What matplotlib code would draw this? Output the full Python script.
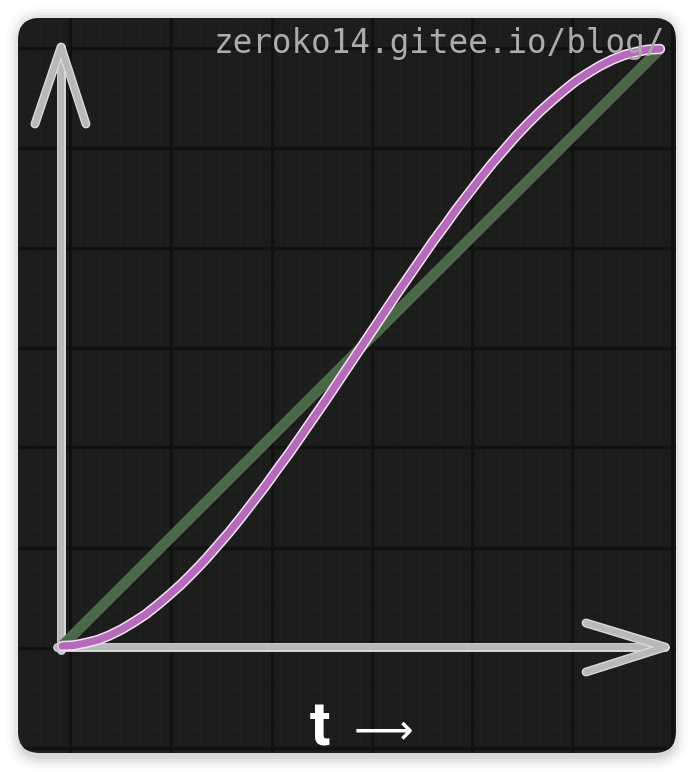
import matplotlib
matplotlib.use("Agg")
import matplotlib.pyplot as plt
import matplotlib.patheffects as pe
from matplotlib.patches import FancyBboxPatch
import numpy as np

# ---- data ----
linear_t = [0.0, 1.0]
linear_v = [0.0, 1.0]
ease_t = [0.00, 0.02, 0.04, 0.06, 0.08, 0.10, 0.12, 0.14, 0.16, 0.18,
          0.20, 0.22, 0.24, 0.26, 0.28, 0.30, 0.32, 0.34, 0.36, 0.38,
          0.40, 0.42, 0.44, 0.46, 0.48, 0.50, 0.52, 0.54, 0.56, 0.58,
          0.60, 0.62, 0.64, 0.66, 0.68, 0.70, 0.72, 0.74, 0.76, 0.78,
          0.80, 0.82, 0.84, 0.86, 0.88, 0.90, 0.92, 0.94, 0.96, 0.98, 1.00]
ease_v = [0.000, 0.001, 0.005, 0.010, 0.018, 0.028, 0.040, 0.053, 0.069, 0.086,
          0.104, 0.124, 0.145, 0.168, 0.191, 0.216, 0.242, 0.268, 0.296, 0.323,
          0.352, 0.381, 0.410, 0.440, 0.470, 0.500, 0.530, 0.560, 0.590, 0.619,
          0.648, 0.677, 0.704, 0.732, 0.758, 0.784, 0.809, 0.832, 0.855, 0.876,
          0.896, 0.914, 0.931, 0.947, 0.960, 0.972, 0.982, 0.990, 0.995, 0.999, 1.000]
watermark = "zeroko14.gitee.io/blog/"
xlabel_t = "t"
xlabel_arrow = "\u27f6"

W, H = 694, 772
DPI = 100
fig = plt.figure(figsize=(W / DPI, H / DPI), dpi=DPI)
fig.patch.set_facecolor("white")
ax = fig.add_axes([0, 0, 1, 1])
ax.set_axis_off()

# pixel -> data helpers (origin of the chart at pixel 62,646; unit = 598x597 px)
OX, OY, SX, SY = 62.0, 646.0, 598.0, 597.0
def X(px):
    return (px - OX) / SX
def Y(py):
    return (OY - py) / SY

ax.set_xlim(X(0), X(W))
ax.set_ylim(Y(H), Y(0))

# ---- card shadow ----
cx0, cy0, cx1, cy1 = 18, 18, 676, 753
for i, a in enumerate([0.05, 0.04, 0.03, 0.02, 0.012]):
    g = 2 + 3 * i
    sh = FancyBboxPatch((X(cx0 - g + 2), Y(cy1 + g + 4)),
                        X(cx1 + g - 2) - X(cx0 - g + 2), Y(cy0 - g + 2) - Y(cy1 + g + 4),
                        boxstyle="round,pad=0,rounding_size=%f" % ((22 + g) / SX),
                        facecolor="black", edgecolor="none", alpha=a, zorder=0)
    ax.add_patch(sh)

# ---- card ----
card = FancyBboxPatch((X(cx0), Y(cy1)), X(cx1) - X(cx0), Y(cy0) - Y(cy1),
                      boxstyle="round,pad=0,rounding_size=%f" % (22 / SX),
                      facecolor="#1c1c1c", edgecolor="none", zorder=1)
ax.add_patch(card)

# subtle fine grid
for px in np.arange(20, 680, 10):
    l = ax.plot([X(px), X(px)], [Y(cy0), Y(cy1)], color="#222222", lw=0.5, zorder=1.2)[0]
    l.set_clip_path(card)
for py in np.arange(18, 760, 10):
    l = ax.plot([X(cx0), X(cx1)], [Y(py), Y(py)], color="#222222", lw=0.5, zorder=1.2)[0]
    l.set_clip_path(card)

# main grid
for px in [70, 171, 272, 372, 472, 572, 672]:
    l = ax.plot([X(px), X(px)], [Y(cy0), Y(cy1)], color="#111111", lw=2.4, zorder=1.5)[0]
    l.set_clip_path(card)
for py in [48, 148, 248, 348, 447, 548, 648, 748]:
    l = ax.plot([X(cx0), X(cx1)], [Y(py), Y(py)], color="#111111", lw=2.4, zorder=1.5)[0]
    l.set_clip_path(card)

# ---- axes arrows ----
axis_fx = [pe.Stroke(linewidth=6.4, foreground="#dadada"), pe.Normal()]
def arrow_line(xs, ys):
    ln = ax.plot(xs, ys, color="#b9b9b9", lw=4.4, solid_capstyle="round",
                 solid_joinstyle="round", zorder=3)[0]
    ln.set_path_effects(axis_fx)
    return ln

# y axis
arrow_line([X(61), X(61)], [Y(650), Y(47)])
arrow_line([X(35), X(61), X(86)], [Y(124), Y(47), Y(124)])
# x axis
arrow_line([X(57), X(665)], [Y(647), Y(647)])
arrow_line([X(586), X(665), X(586)], [Y(623), Y(647), Y(672)])

# ---- curves ----
lin = ax.plot(linear_t, linear_v, color="#4a6847", lw=6.6,
              solid_capstyle="round", zorder=4)[0]
lin.set_path_effects([pe.Stroke(linewidth=7.6, foreground="#587456"), pe.Normal()])
ease = ax.plot(ease_t, ease_v, color="#b56bb9", lw=5.2,
               solid_capstyle="round", solid_joinstyle="round", zorder=5)[0]
ease.set_path_effects([pe.Stroke(linewidth=7.4, foreground="#f4e2f4"), pe.Normal()])

# ---- texts ----
wm = ax.text(X(214), Y(53), watermark, family="DejaVu Sans Mono", fontsize=23.5,
             color="#ababab", ha="left", va="baseline", zorder=6)
wm.set_clip_path(card)

ax.text(X(320), Y(746), xlabel_t, family="Roboto", fontsize=44, color="white",
        fontweight="semibold", ha="center", va="baseline", zorder=6)
ax.text(X(383), Y(731), xlabel_arrow, family="DejaVu Sans", fontsize=30, color="white",
        ha="center", va="center", zorder=6)

fig.savefig("out.png", dpi=DPI, facecolor="white")
